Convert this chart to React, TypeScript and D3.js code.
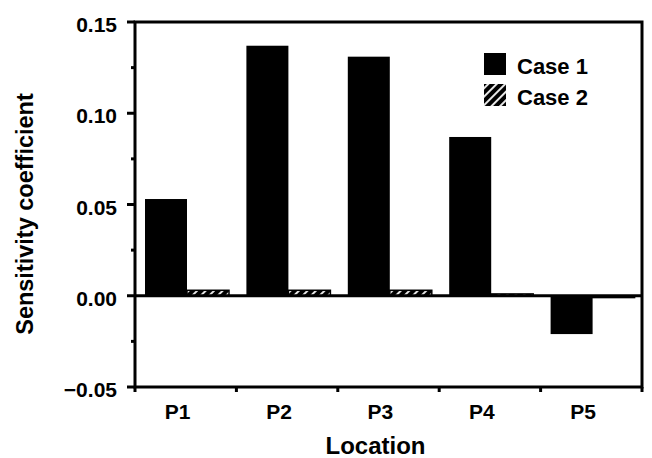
import React from "react";
import * as d3 from "d3";

const categories = ["P1", "P2", "P3", "P4", "P5"];
const seriesNames = ["Case 1", "Case 2"];
const case1 = [0.053, 0.137, 0.131, 0.087, -0.021];
const case2 = [0.003, 0.003, 0.003, 0.001, -0.001];
const yMajorTicks = [-0.05, 0, 0.05, 0.1, 0.15];
const yMinorTicks = [-0.025, 0.025, 0.075, 0.125];
const yTickLabels = ["\u22120.05", "0.00", "0.05", "0.10", "0.15"];
const xTitle = "Location";
const yTitle = "Sensitivity coefficient";

const W = 652;
const H = 458;
const left = 135;
const right = 642;
const top = 22;
const bottom = 387;
const FONT = "'Liberation Sans', Arial, Helvetica, sans-serif";

export default function App() {
  const x = d3.scaleBand<string>().domain(categories).range([left, right]).padding(0);
  const xs = d3.scaleBand<string>().domain(seriesNames).range([10, 94]).padding(0);
  const y = d3.scaleLinear().domain([-0.05, 0.15]).range([bottom, top]);
  const bw = x.bandwidth();
  const values = [case1, case2];
  const boundaries = categories.map((c) => x(c) as number).concat([right]);

  return (
    <svg
      width={W}
      height={H}
      style={{ position: "absolute", left: 0, top: 0, background: "#fff" }}
      fontFamily={FONT}
      fontWeight="bold"
    >
      <defs>
        <pattern id="hatch" width="6" height="6" patternUnits="userSpaceOnUse" patternTransform="rotate(45)">
          <rect width="6" height="6" fill="#000" />
          <line x1="3" y1="0" x2="3" y2="6" stroke="#fff" strokeWidth="1.8" />
        </pattern>
      </defs>
      <rect x={0} y={0} width={W} height={H} fill="#fff" />

      {/* bars */}
      {seriesNames.map((s, si) =>
        categories.map((c, ci) => {
          const v = values[si][ci];
          const y0 = y(0);
          const y1 = y(v);
          return (
            <rect
              key={s + c}
              x={(x(c) as number) + (xs(s) as number)}
              y={Math.min(y0, y1)}
              width={xs.bandwidth()}
              height={Math.abs(y1 - y0)}
              fill={si === 0 ? "#000" : "url(#hatch)"}
              stroke={si === 0 ? "none" : "#000"}
              strokeWidth={si === 0 ? 0 : 1.5}
            />
          );
        })
      )}

      {/* zero line */}
      <line x1={left} x2={right} y1={y(0)} y2={y(0)} stroke="#000" strokeWidth={3} />

      {/* frame */}
      <rect x={left} y={top} width={right - left} height={bottom - top} fill="none" stroke="#000" strokeWidth={3} />

      {/* y ticks */}
      {yMajorTicks.map((t, i) => (
        <g key={"yt" + i}>
          <line x1={left - 8} x2={left} y1={y(t)} y2={y(t)} stroke="#000" strokeWidth={3} />
          <text x={117} y={y(t) + 10} textAnchor="end" fontSize={21}>
            {yTickLabels[i]}
          </text>
        </g>
      ))}
      {yMinorTicks.map((t, i) => (
        <line key={"ym" + i} x1={left - 4} x2={left} y1={y(t)} y2={y(t)} stroke="#000" strokeWidth={3} />
      ))}

      {/* x ticks */}
      {boundaries.map((b, i) => (
        <line key={"xt" + i} x1={b} x2={b} y1={bottom} y2={bottom + 5} stroke="#000" strokeWidth={3} />
      ))}
      {categories.map((c) => (
        <text key={"xl" + c} x={(x(c) as number) + bw * 0.42} y={419} textAnchor="middle" fontSize={21}>
          {c}
        </text>
      ))}

      {/* axis titles */}
      <text x={(left + right) / 2 - 13} y={454} textAnchor="middle" fontSize={24}>
        {xTitle}
      </text>
      <text transform={`translate(33, 214) rotate(-90)`} textAnchor="middle" fontSize={23.5}>
        {yTitle}
      </text>

      {/* legend */}
      {seriesNames.map((s, i) => (
        <g key={"lg" + s} transform={`translate(484, ${53 + i * 31})`}>
          <rect x={0} y={0} width={22} height={22} fill={i === 0 ? "#000" : "url(#hatch)"} />
          <text x={33} y={21} fontSize={22}>
            {s}
          </text>
        </g>
      ))}
    </svg>
  );
}
